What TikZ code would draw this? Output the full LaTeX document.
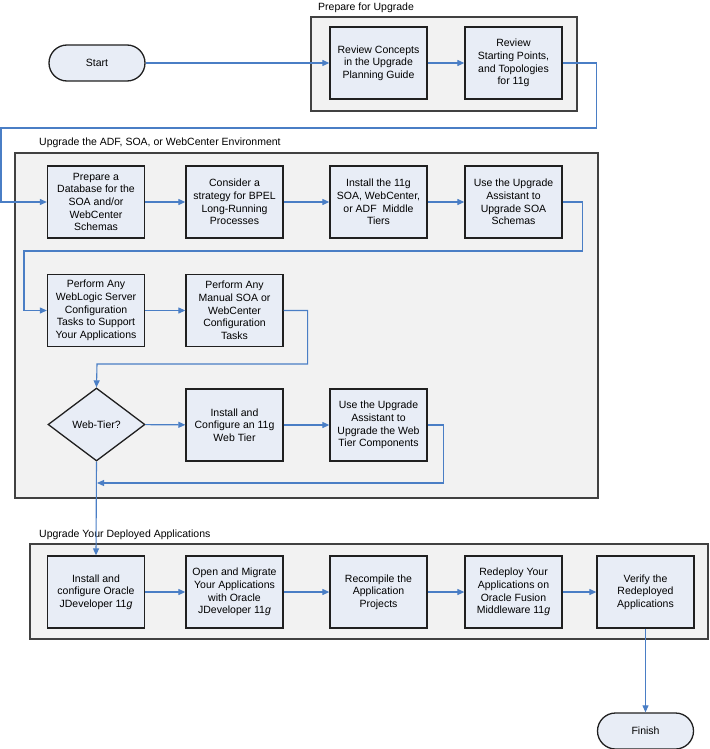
\documentclass[tikz,border=0pt]{standalone}
\usepackage{fontspec}
\setmainfont{Liberation Sans}
\usetikzlibrary{arrows.meta,shapes.geometric}
\definecolor{boxfill}{RGB}{232,237,246}
\definecolor{grpfill}{RGB}{242,242,242}
\definecolor{conncol}{RGB}{74,126,197}
\definecolor{edge}{RGB}{32,32,32}
\tikzset{
  stepbox/.style={draw=edge, line width=1.3pt, fill=boxfill, minimum width=97pt, minimum height=72pt, inner sep=0pt, align=center, font=\fontsize{10.5}{12.7}\selectfont},
  term/.style={draw=edge, line width=1.3pt, fill=boxfill, minimum width=96pt, minimum height=36pt, rounded corners=18pt, inner sep=0pt, font=\fontsize{10.5}{12.7}\selectfont},
  decis/.style={diamond, draw=edge, line width=1.3pt, fill=boxfill, minimum width=97pt, minimum height=73pt, aspect=1.33, inner sep=0pt, font=\fontsize{10.5}{12.7}\selectfont},
  grp/.style={draw=edge!85, line width=1.3pt, fill=grpfill, inner sep=0pt},
  grplabel/.style={anchor=west, inner sep=0pt, font=\fontsize{10.5}{12.7}\selectfont},
  conn/.style={draw=conncol, line width=1.1pt, -{Triangle[length=7pt,width=6pt]}},
  plain/.style={draw=conncol, line width=1.1pt},
}
\begin{document}
\begin{tikzpicture}[x=1pt,y=-1pt]
\useasboundingbox (0,0) rectangle (709,749);
% groups
\node[grp, minimum width=266pt, minimum height=94pt] (g1) at (444,64) {};
\node[grplabel] (g1l) at (318,8) {Prepare for Upgrade};
\node[grp, minimum width=583pt, minimum height=345pt] (g2) at (306.5,325.5) {};
\node[grplabel] (g2l) at (39,143) {Upgrade the ADF, SOA, or WebCenter Environment};
\node[grp, minimum width=678pt, minimum height=95pt] (g3) at (369,591.5) {};
\node[grplabel] (g3l) at (39,535) {Upgrade Your Deployed Applications};
% nodes
\node[term] (start) at (97,63) {Start};
\node[stepbox] (rc) at (378.5,63) {Review Concepts\\in the Upgrade\\Planning Guide};
\node[stepbox] (rsp) at (513.5,63) {Review\\Starting Points,\\and Topologies\\for 11g};
\node[stepbox] (db) at (96,202) {Prepare a\\Database for the\\SOA and/or\\WebCenter\\Schemas};
\node[stepbox] (bpel) at (234.5,202) {Consider a\\strategy for BPEL\\Long-Running\\Processes};
\node[stepbox] (inst) at (378.5,202) {Install the 11g\\SOA, WebCenter,\\or ADF\ \ Middle\\Tiers};
\node[stepbox] (uas) at (513.5,202) {Use the Upgrade\\Assistant to\\Upgrade SOA\\Schemas};
\node[stepbox] (wl) at (96,310.5) {Perform Any\\WebLogic Server\\Configuration\\Tasks to Support\\Your Applications};
\node[stepbox] (man) at (234.5,310.5) {Perform Any\\Manual SOA or\\WebCenter\\Configuration\\Tasks};
\node[decis] (dia) at (96.5,424.5) {Web-Tier?};
\node[stepbox] (wt) at (234.5,425) {Install and\\Configure an 11g\\Web Tier};
\node[stepbox] (uaw) at (378.5,425) {Use the Upgrade\\Assistant to\\Upgrade the Web\\Tier Components};
\node[stepbox] (jdev) at (96,592) {Install and\\configure Oracle\\JDeveloper 11\textit{g}};
\node[stepbox] (mig) at (234.5,592) {Open and Migrate\\Your Applications\\with Oracle\\JDeveloper 11\textit{g}};
\node[stepbox] (rec) at (378.5,592) {Recompile the\\Application\\Projects};
\node[stepbox] (red) at (513.5,592) {Redeploy Your\\Applications on\\Oracle Fusion\\Middleware 11\textit{g}};
\node[stepbox] (ver) at (645.5,592) {Verify the\\Redeployed\\Applications};
\node[term] (fin) at (645.5,731) {Finish};
% waypoints
\coordinate (w1) at (1,128);
\coordinate (w2) at (24,251);
\coordinate (w3) at (97,364);
\coordinate (join) at (97,483);
% connectors
\draw[conn] (start) -- (rc);
\draw[conn] (rc) -- (rsp);
\draw[conn] (rsp.east) -- ++(34,0) |- (w1) |- (db.west);
\draw[conn] (db) -- (bpel);
\draw[conn] (bpel) -- (inst);
\draw[conn] (inst) -- (uas);
\draw[conn] (uas.east) -- ++(20,0) |- (w2) |- (wl.west);
\draw[conn] (wl) -- (man);
\draw[conn] (man.east) -- ++(24,0) |- (w3) -- (dia.north);
\draw[conn] (dia) -- (wt);
\draw[conn] (wt) -- (uaw);
\draw[conn] (uaw.east) -- ++(16,0) |- (join);
\draw[conn] (dia.south) -- (jdev.north);
\draw[conn] (jdev) -- (mig);
\draw[conn] (mig) -- (rec);
\draw[conn] (rec) -- (red);
\draw[conn] (red) -- (ver);
\draw[conn] (ver) -- (fin);
\end{tikzpicture}
\end{document}
